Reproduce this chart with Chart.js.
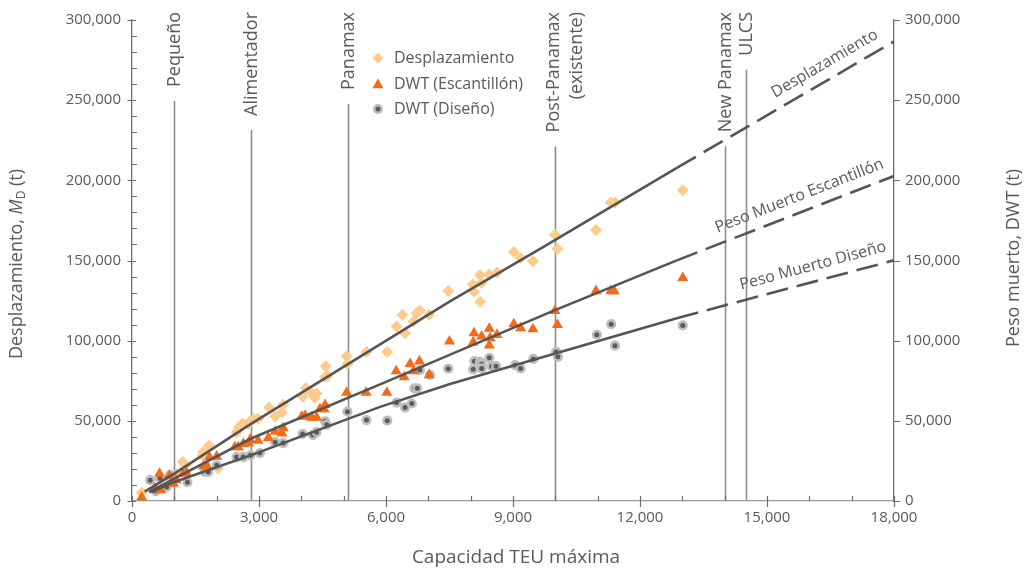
<!DOCTYPE html>
<html><head><meta charset="utf-8">
<script src="https://cdn.jsdelivr.net/npm/chart.js@4.4.1/dist/chart.umd.min.js"></script>
<style>html,body{margin:0;padding:0;background:#fff}#wrap{width:1028px;height:571px;position:relative}</style>
</head><body><div id="wrap"><canvas id="c" width="1028" height="571"></canvas></div>
<script>
// ---------- DATA ----------
const desplTeu = [230,870,1055,1200,1270,1670,1680,1820,2030,2470,2530,2610,2750,2800,2870,2980,3240,3380,3540,3570,4030,4110,4230,4320,4360,4560,4580,4620,5070,5090,5540,6030,6250,6390,6450,6650,6720,6800,7020,7470,8050,8080,8220,8220,8260,8440,8620,9020,9180,9470,9990,10050,10960,11310,11410,13010];
const desplVal = [5100,15000,16700,24300,22300,28500,30500,34600,20400,42900,46000,48200,48200,50100,51300,51300,58300,52800,55300,60000,65100,70500,67600,64500,67000,77300,84100,78000,90300,85500,93000,93000,108900,116100,104700,112000,117100,118600,116100,131000,135000,130500,124300,140900,136100,141200,142500,155300,151600,149500,166000,157300,169000,186200,186200,193800];

const escTeu = [230,540,650,680,880,980,1040,1210,1290,1690,1780,1830,2000,2430,2510,2630,2750,2790,2980,3220,3380,3540,3570,4010,4090,4240,4360,4440,4540,4560,5070,5530,6020,6240,6430,6570,6650,6790,7020,7500,8060,8080,8260,8440,8440,8460,8620,9020,9180,9470,9990,10050,10960,11310,11390,13010];
const escVal = [2300,7900,17100,6800,15700,10900,13000,17100,17500,21700,21700,27400,27800,33600,33600,35700,36100,38200,37700,39400,43300,42300,45600,52600,53200,52100,52100,57300,57300,60000,67600,67600,67600,81000,77300,85500,81000,87200,78600,99600,99000,104700,102700,107500,97100,101700,103700,110300,107800,107200,118600,109900,131000,131000,131000,139200];

const disTeu = [430,560,660,820,900,1310,1720,1800,2000,2470,2630,2800,3020,3380,3570,4030,4270,4360,4560,4600,5090,5540,6030,6250,6450,6610,6670,6740,6800,7040,7470,8060,8090,8220,8260,8260,8440,8500,8600,9050,9180,9480,10020,10060,10980,11320,11410,13010];
const disVal = [13000,6200,14200,8800,16300,11700,18100,18100,22300,27400,27400,28500,29900,36700,36100,41800,41200,42900,49700,47600,55700,50500,50100,61400,58300,60800,70300,70300,81700,78600,82500,82100,87200,86800,85500,82700,89300,84100,84100,84700,82700,88600,93000,89900,103700,110300,96900,109500];

// trend lines (solid part, then dashed extension)
const desplFitTeu = [300,1000,2800,7500,9640,12870];
const desplFitVal = [5800,17100,48000,124300,157300,207800];
const desplExtTeu = [12870,18000];
const desplExtVal = [207800,286600];
const escFitTeu = [400,1000,2800,6000,9950,12870];
const escFitVal = [5500,14000,38800,74300,118600,150100];
const escExtTeu = [12870,18000];
const escExtVal = [150100,202700];
const disFitTeu = [450,1000,2800,5860,7512,12870];
const disFitVal = [5500,11900,28450,58700,73000,114000];
const disExtTeu = [12870,18000];
const disExtVal = [114000,150100];

const legendLabels = ['Desplazamiento','DWT (Escantillón)','DWT (Diseño)'];
const fitLabels = ['Desplazamiento','Peso Muerto Escantillón','Peso Muerto Diseño'];
const categoryNames = [['Pequeño'],['Alimentador'],['Panamax'],['Post-Panamax','(existente)'],['New Panamax'],['ULCS']];
const categoryTeu = [1000,2800,5100,10000,14000,14500];
const xTickValues = [0,3000,6000,9000,12000,15000,18000];
const yTickValues = [0,50000,100000,150000,200000,250000,300000];
const xTitle = 'Capacidad TEU máxima';
const yTitleParts = ['Desplazamiento, ','M','D',' (t)'];
const y2Title = 'Peso muerto, DWT (t)';

// ---------- STYLE ----------
const FONT = "'Open Sans', 'Noto Sans', sans-serif";
const TXT = '#595959';
const C_DIAM = '#FDCB8C', C_TRI = '#F26A1B', C_CIRC_IN = '#5a5a5a', C_CIRC_OUT = '#BDBDBD', C_LINE = '#555555';
const fitLabelAt = [16550, 15900, 16180];

const pts = (xs, ys) => xs.map((x, i) => ({x, y: ys[i]}));
const fmt = v => Number(v).toLocaleString('en-US');

function lineDs(xs, ys, dashed) {
  return {data: pts(xs, ys), showLine: true, pointRadius: 0, pointHoverRadius: 0, borderColor: C_LINE,
    borderWidth: 2.6, borderDash: dashed ? [22, 9] : [], tension: 0, fill: false, borderCapStyle: 'butt'};
}

const overlay = {
  id: 'overlay',
  beforeDatasetsDraw(chart) {
    const {ctx, scales: {x, y}, chartArea} = chart;
    ctx.save();
    ctx.font = '18px ' + FONT;
    ctx.fillStyle = TXT;
    categoryNames.forEach((lines, i) => {
      const px = Math.round(x.getPixelForValue(categoryTeu[i])) + 0.5;
      lines.forEach((t, j) => {
        const off = lines.length > 1 ? (j === 0 ? -2 : 21) : 0;
        ctx.save();
        ctx.translate(px + off, 12);
        ctx.rotate(-Math.PI / 2);
        ctx.textAlign = 'right'; ctx.textBaseline = 'middle';
        ctx.fillText(t, 0, 0);
        ctx.restore();
      });
      const top = 12 + ctx.measureText(lines[0]).width + 14;
      ctx.strokeStyle = '#8c8c8c'; ctx.lineWidth = 1.6;
      ctx.beginPath(); ctx.moveTo(px, top); ctx.lineTo(px, chartArea.bottom); ctx.stroke();
    });
    ctx.restore();
  },
  afterDraw(chart) {
    const {ctx, scales: {x, y}, chartArea: ca} = chart;
    ctx.save();
    // ticks
    ctx.strokeStyle = '#6e6e6e'; ctx.lineWidth = 1.2;
    ctx.beginPath();
    for (let v = 0; v <= 300000; v += 10000) {
      const py = Math.round(y.getPixelForValue(v)) + 0.5;
      if (v % 50000 === 0) { ctx.moveTo(ca.left - 4.5, py); ctx.lineTo(ca.left + 4, py); }
      else { ctx.moveTo(ca.left, py); ctx.lineTo(ca.left + 5, py); }
      if (v % 50000 === 0) { ctx.moveTo(ca.right, py); ctx.lineTo(ca.right + 6, py); }
    }
    for (let v = 0; v <= 18000; v += 1000) {
      const px = Math.round(x.getPixelForValue(v)) + 0.5;
      if (v % 3000 === 0) { ctx.moveTo(px, ca.bottom - 5); ctx.lineTo(px, ca.bottom + 6); }
      else { ctx.moveTo(px, ca.bottom - 5); ctx.lineTo(px, ca.bottom); }
    }
    ctx.stroke();

    // legend
    const lx = 378, ly = [58, 84, 109];
    ctx.fillStyle = C_DIAM;
    ctx.beginPath(); ctx.moveTo(lx, ly[0] - 5.5); ctx.lineTo(lx + 5.5, ly[0]); ctx.lineTo(lx, ly[0] + 5.5); ctx.lineTo(lx - 5.5, ly[0]); ctx.closePath(); ctx.fill();
    ctx.fillStyle = C_TRI;
    const r = 6.4;
    ctx.beginPath(); ctx.moveTo(lx, ly[1] - r + 1); ctx.lineTo(lx + r * 0.866, ly[1] + r * 0.5 + 1); ctx.lineTo(lx - r * 0.866, ly[1] + r * 0.5 + 1); ctx.closePath(); ctx.fill();
    ctx.beginPath(); ctx.arc(lx, ly[2], 3.8, 0, Math.PI * 2);
    ctx.fillStyle = C_CIRC_IN; ctx.fill(); ctx.lineWidth = 2.6; ctx.strokeStyle = C_CIRC_OUT; ctx.stroke();
    ctx.font = '16px ' + FONT; ctx.fillStyle = TXT; ctx.textBaseline = 'middle'; ctx.textAlign = 'left';
    legendLabels.forEach((t, i) => ctx.fillText(t, 394, ly[i]));

    // fit line labels
    const exts = [[desplExtTeu, desplExtVal], [escExtTeu, escExtVal], [disExtTeu, disExtVal]];
    ctx.font = '16px ' + FONT;
    exts.forEach(([xs, ys], i) => {
      const x0 = x.getPixelForValue(xs[0]), y0 = y.getPixelForValue(ys[0]);
      const x1 = x.getPixelForValue(xs[1]), y1 = y.getPixelForValue(ys[1]);
      const ang = Math.atan2(y1 - y0, x1 - x0);
      const px = x.getPixelForValue(fitLabelAt[i]);
      const py = y0 + (y1 - y0) * (px - x0) / (x1 - x0);
      ctx.save();
      ctx.translate(px, py); ctx.rotate(ang);
      ctx.textAlign = 'center'; ctx.textBaseline = 'alphabetic';
      ctx.fillText(fitLabels[i], 0, -11);
      ctx.restore();
    });

    // axis titles
    ctx.fillStyle = TXT;
    ctx.font = '19px ' + FONT;
    ctx.textAlign = 'center'; ctx.textBaseline = 'middle';
    ctx.fillText(xTitle, 516, 558);

    ctx.save();
    ctx.translate(1014, 258); ctx.rotate(-Math.PI / 2);
    ctx.font = '18px ' + FONT;
    ctx.fillText(y2Title, 0, 0);
    ctx.restore();

    ctx.save();
    ctx.translate(17, 264); ctx.rotate(-Math.PI / 2);
    const fN = '18px ' + FONT, fI = 'italic 18px ' + FONT, fS = '12px ' + FONT;
    const fonts = [fN, fI, fS, fN];
    const ws = yTitleParts.map((t, i) => { ctx.font = fonts[i]; return ctx.measureText(t).width; });
    let cx = -ws.reduce((a, b) => a + b, 0) / 2;
    ctx.textAlign = 'left';
    yTitleParts.forEach((t, i) => {
      ctx.font = fonts[i];
      ctx.fillText(t, cx, i === 2 ? 5 : 0);
      cx += ws[i];
    });
    ctx.restore();
    ctx.restore();
  }
};

Chart.defaults.font.family = FONT;
new Chart(document.getElementById('c'), {
  type: 'scatter',
  data: {
    datasets: [
      lineDs(desplFitTeu, desplFitVal, false), lineDs(desplExtTeu, desplExtVal, true),
      lineDs(escFitTeu, escFitVal, false), lineDs(escExtTeu, escExtVal, true),
      lineDs(disFitTeu, disFitVal, false), lineDs(disExtTeu, disExtVal, true),
      {label: legendLabels[1], data: pts(escTeu, escVal), pointStyle: 'triangle', pointRadius: 6.4, backgroundColor: C_TRI, borderWidth: 0},
      {label: legendLabels[2], data: pts(disTeu, disVal), pointStyle: 'circle', pointRadius: 3.8, backgroundColor: C_CIRC_IN, borderColor: C_CIRC_OUT, borderWidth: 2.6},
      {label: legendLabels[0], data: pts(desplTeu, desplVal), pointStyle: 'rectRot', pointRadius: 6, backgroundColor: C_DIAM, borderWidth: 0}
    ]
  },
  options: {
    responsive: false, animation: false, devicePixelRatio: 1,
    layout: {padding: {top: 16, left: 0, right: 0, bottom: 0}},
    plugins: {legend: {display: false}, tooltip: {enabled: false}},
    scales: {
      x: {type: 'linear', position: 'bottom', min: 0, max: 18000,
        afterFit: s => { s.height = 70; },
        afterBuildTicks: s => { s.ticks = xTickValues.map(v => ({value: v})); },
        ticks: {callback: v => fmt(v), font: {size: 15}, color: TXT, padding: 8, maxRotation: 0},
        grid: {display: false, drawTicks: false}, border: {display: true, color: '#9a9a9a', width: 1.3}},
      y: {type: 'linear', position: 'left', min: 0, max: 300000,
        afterFit: s => { s.width = 132; },
        afterBuildTicks: s => { s.ticks = yTickValues.map(v => ({value: v})); },
        ticks: {callback: v => fmt(v), font: {size: 15}, color: TXT, padding: 11},
        grid: {display: false, drawTicks: false}, border: {display: true, color: '#6e6e6e', width: 1.3}},
      y2: {type: 'linear', position: 'right', min: 0, max: 300000,
        afterFit: s => { s.width = 134; },
        afterBuildTicks: s => { s.ticks = yTickValues.map(v => ({value: v})); },
        ticks: {callback: v => fmt(v), font: {size: 15}, color: TXT, padding: 11},
        grid: {display: false, drawTicks: false}, border: {display: true, color: '#6e6e6e', width: 1.3}}
    }
  },
  plugins: [overlay]
});
</script></body></html>
